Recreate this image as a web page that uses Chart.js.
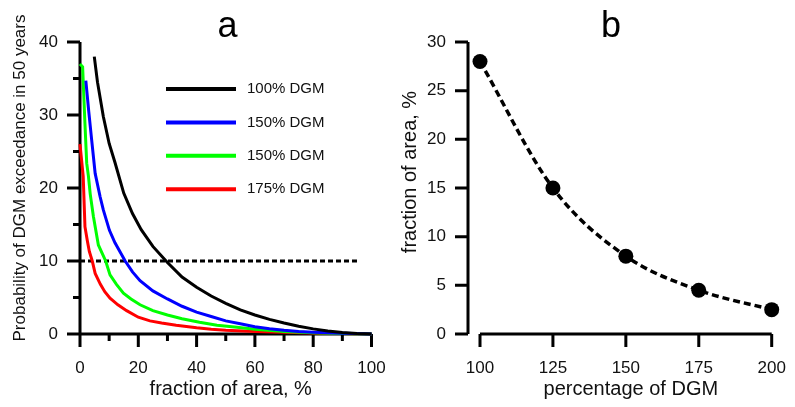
<!DOCTYPE html>
<html>
<head>
<meta charset="utf-8">
<script src="https://cdn.jsdelivr.net/npm/chart.js@4.4.1/dist/chart.umd.min.js"></script>
<style>
  body { margin: 0; background: #fff; }
  #wrap { position: relative; width: 795px; height: 407px; overflow: hidden; }
  canvas { position: absolute; top: 0; }
  #chartA { left: 0; }
  #chartB { left: 395px; }
</style>
</head>
<body>
<div id="wrap">
  <canvas id="chartA" width="395" height="407"></canvas>
  <canvas id="chartB" width="400" height="407"></canvas>
</div>
<script>
const FONT = '"Liberation Sans", Arial, sans-serif';

// panel a - exceedance probability vs fraction of area
const seriesNames = ["100% DGM", "150% DGM", "150% DGM", "175% DGM"];
const seriesColors = ["#000000", "#0000ff", "#00ff00", "#ff0000"];

const dgm100X = [4.9, 6, 8, 10, 12, 15, 18, 21, 25, 30, 35, 40, 45, 50, 55, 60, 65, 70, 75, 80, 85, 90, 95, 100];
const dgm100Y = [38.0, 34.5, 29.8, 26.1, 23.5, 19.3, 16.5, 14.3, 12.0, 9.8, 7.8, 6.4, 5.2, 4.2, 3.3, 2.6, 2.0, 1.5, 1.05, 0.7, 0.4, 0.2, 0.07, 0];

const dgm150X = [2, 3, 4, 5.2, 6.9, 8, 10.1, 12, 15.5, 18, 20.6, 25, 30, 35, 40, 45, 50, 55, 60, 65, 70, 75, 80, 90, 100];
const dgm150Y = [34.7, 30.5, 26.6, 22.0, 18.8, 17.0, 14.2, 12.5, 10.0, 8.5, 7.3, 5.9, 4.8, 3.8, 3.0, 2.4, 1.8, 1.4, 1.0, 0.72, 0.5, 0.35, 0.25, 0.1, 0];

const dgm150bX = [0, 0.9, 1.7, 2.3, 2.9, 3.5, 4.6, 6.3, 8.8, 10.3, 12.5, 14.9, 17.5, 20.6, 25, 30, 35, 41, 47, 53, 60, 70, 80, 90, 100];
const dgm150bY = [37.0, 36.6, 28.8, 23.4, 21.6, 19.2, 16.1, 12.2, 10.0, 8.1, 6.8, 5.6, 4.8, 4.0, 3.2, 2.6, 2.1, 1.6, 1.2, 0.95, 0.65, 0.35, 0.18, 0.07, 0];

const dgm175X = [0, 0.5, 1.1, 1.7, 2.5, 3.2, 4.2, 5.2, 7, 8.5, 10.3, 13, 16, 20, 24, 28, 33, 40, 45, 50, 60, 70, 80, 90, 100];
const dgm175Y = [26.0, 24.0, 21.6, 14.7, 12.8, 11.3, 10.0, 8.3, 6.8, 5.8, 4.9, 4.0, 3.2, 2.3, 1.8, 1.5, 1.2, 0.85, 0.65, 0.5, 0.35, 0.25, 0.15, 0.07, 0];

const thresholdX = [0, 95.5];
const thresholdY = [10, 10];

const fractionTicks = [0, 20, 40, 60, 80, 100];
const fractionMinor = [10, 30, 50, 70, 90];
const probTicks = [0, 10, 20, 30, 40];
const probMinor = [5, 15, 25, 35];

// panel b - fraction of area vs DGM level
const dgmLevels = [100, 125, 150, 175, 200];
const areaFraction = [28, 15, 8, 4.5, 2.5];
const dgmTicks = [100, 125, 150, 175, 200];
const areaTicks = [0, 5, 10, 15, 20, 25, 30];

function pts(xs, ys) {
  return xs.map((x, i) => ({ x: x, y: ys[i] }));
}

// axes, ticks, labels and titles drawn from the chart's own scales
function drawAxes(chart, cfg) {
  const ctx = chart.ctx;
  const xs = chart.scales.x;
  const ys = chart.scales.y;
  const x0 = xs.getPixelForValue(xs.min);
  const x1 = xs.getPixelForValue(xs.max);
  const y0 = ys.getPixelForValue(ys.min);
  const y1 = ys.getPixelForValue(ys.max);
  const ax = x0 - cfg.gap;

  ctx.save();
  ctx.strokeStyle = "#000";
  ctx.lineWidth = 3;
  ctx.beginPath();
  ctx.moveTo(ax, y1);
  ctx.lineTo(ax, y0);
  ctx.moveTo(x0, y0);
  ctx.lineTo(x1, y0);
  cfg.yTicks.forEach((v) => {
    const p = ys.getPixelForValue(v);
    ctx.moveTo(ax - 13, p);
    ctx.lineTo(ax, p);
  });
  cfg.yMinor.forEach((v) => {
    const p = ys.getPixelForValue(v);
    ctx.moveTo(ax - 7, p);
    ctx.lineTo(ax, p);
  });
  cfg.xTicks.forEach((v) => {
    const p = xs.getPixelForValue(v);
    ctx.moveTo(p, y0);
    ctx.lineTo(p, y0 + 13);
  });
  cfg.xMinor.forEach((v) => {
    const p = xs.getPixelForValue(v);
    ctx.moveTo(p, y0);
    ctx.lineTo(p, y0 + 7);
  });
  ctx.stroke();

  ctx.fillStyle = "#111";
  ctx.font = "17px " + FONT;
  ctx.textBaseline = "middle";
  ctx.textAlign = "right";
  cfg.yTicks.forEach((v) => ctx.fillText(String(v), ax - 22, ys.getPixelForValue(v)));
  ctx.textAlign = "center";
  cfg.xTicks.forEach((v) => ctx.fillText(String(v), xs.getPixelForValue(v), y0 + 34));

  ctx.font = "20px " + FONT;
  ctx.fillText(cfg.xTitle, (x0 + x1) / 2 + 5, y0 + 55);

  ctx.save();
  ctx.translate(cfg.yTitleX, cfg.yTitleY);
  ctx.rotate(-Math.PI / 2);
  ctx.font = cfg.yTitleSize + "px " + FONT;
  ctx.fillText(cfg.yTitle, 0, 0);
  ctx.restore();

  ctx.fillStyle = "#000";
  ctx.font = "36px " + FONT;
  ctx.textBaseline = "alphabetic";
  ctx.fillText(cfg.letter, cfg.letterX, 37);
  ctx.restore();
}

const legendPlugin = {
  id: "dgmLegend",
  afterDraw(chart) {
    const ctx = chart.ctx;
    ctx.save();
    ctx.font = "15px " + FONT;
    ctx.textBaseline = "middle";
    ctx.textAlign = "left";
    ctx.fillStyle = "#111";
    chart.data.datasets.filter((d) => d.label).forEach((d, i) => {
      const yy = 89 + i * 33.4;
      ctx.strokeStyle = d.borderColor;
      ctx.lineWidth = 4;
      ctx.beginPath();
      ctx.moveTo(166, yy);
      ctx.lineTo(236, yy);
      ctx.stroke();
      ctx.fillText(d.label, 247, yy);
    });
    ctx.restore();
  },
};

const curveSets = [
  [dgm100X, dgm100Y],
  [dgm150X, dgm150Y],
  [dgm150bX, dgm150bY],
  [dgm175X, dgm175Y],
];

const datasetsA = curveSets.map((s, i) => ({
  label: seriesNames[i],
  data: pts(s[0], s[1]),
  borderColor: seriesColors[i],
  borderWidth: 3,
  showLine: true,
  pointRadius: 0,
  tension: 0,
  clip: false,
}));
datasetsA.push({
  label: "",
  data: pts(thresholdX, thresholdY),
  borderColor: "#000",
  borderWidth: 3,
  borderDash: [5, 3],
  showLine: true,
  pointRadius: 0,
  clip: false,
});

new Chart(document.getElementById("chartA"), {
  type: "scatter",
  data: { datasets: datasetsA },
  options: {
    responsive: false,
    animation: false,
    layout: { padding: { left: 80, right: 23.5, top: 42, bottom: 73 } },
    plugins: { legend: { display: false }, tooltip: { enabled: false } },
    scales: {
      x: { type: "linear", min: 0, max: 100, display: false },
      y: { type: "linear", min: 0, max: 40, display: false },
    },
  },
  plugins: [
    {
      id: "axesA",
      beforeDatasetsDraw(chart) {
        drawAxes(chart, {
          gap: 0,
          xTicks: fractionTicks,
          xMinor: fractionMinor,
          yTicks: probTicks,
          yMinor: probMinor,
          xTitle: "fraction of area, %",
          yTitle: "Probability of DGM exceedance in 50 years",
          yTitleSize: 17,
          yTitleX: 20,
          yTitleY: 178,
          letter: "a",
          letterX: 227.5,
        });
      },
    },
    legendPlugin,
  ],
});

new Chart(document.getElementById("chartB"), {
  type: "scatter",
  data: {
    datasets: [
      {
        data: pts(dgmLevels, areaFraction),
        borderColor: "#000",
        borderWidth: 3.5,
        borderDash: [7, 4],
        showLine: true,
        cubicInterpolationMode: "monotone",
        pointRadius: 7.5,
        pointBackgroundColor: "#000",
        pointBorderColor: "#000",
        pointBorderWidth: 0,
        clip: false,
      },
    ],
  },
  options: {
    responsive: false,
    animation: false,
    layout: { padding: { left: 85, right: 23.3, top: 42, bottom: 73 } },
    plugins: { legend: { display: false }, tooltip: { enabled: false } },
    scales: {
      x: { type: "linear", min: 100, max: 200, display: false },
      y: { type: "linear", min: 0, max: 30, display: false },
    },
  },
  plugins: [
    {
      id: "axesB",
      beforeDatasetsDraw(chart) {
        drawAxes(chart, {
          gap: 12,
          xTicks: dgmTicks,
          xMinor: [],
          yTicks: areaTicks,
          yMinor: [],
          xTitle: "percentage of DGM",
          yTitle: "fraction of area, %",
          yTitleSize: 20,
          yTitleX: 15,
          yTitleY: 172,
          letter: "b",
          letterX: 216,
        });
      },
    },
  ],
});
</script>
</body>
</html>
